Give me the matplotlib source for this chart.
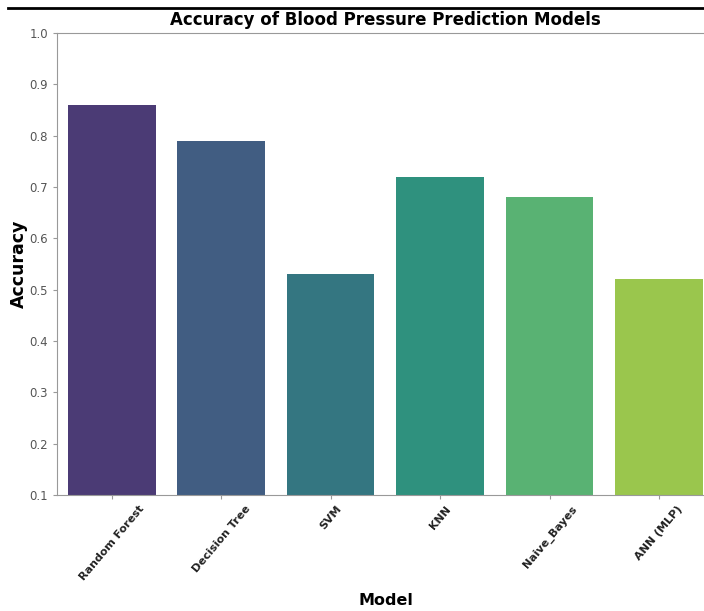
import matplotlib
matplotlib.use("Agg")
import matplotlib.pyplot as plt
import seaborn as sns
from matplotlib.lines import Line2D

# Model accuracies
models = ["Random Forest", "Decision Tree", "SVM", "KNN", "Naive_Bayes", "ANN (MLP)"]
accuracy = [0.86, 0.79, 0.53, 0.72, 0.68, 0.52]
yticks = [0.1, 0.2, 0.3, 0.4, 0.5, 0.6, 0.7, 0.8, 0.9, 1.0]

fig = plt.figure(figsize=(7.04, 6.11), dpi=100)
ax = fig.add_axes([0.081, 0.19, 0.933, 0.756])

sns.barplot(x=models, y=accuracy, hue=models, palette="viridis", legend=False, ax=ax, width=0.8)

ax.set_ylim(0.1, 1.0)
ax.set_xlim(-0.5, 5.5)
ax.set_yticks(yticks)
ax.set_yticklabels([f"{t:.1f}" for t in yticks], fontsize=8.5, color="#555555")
ax.set_xticks(range(len(models)))
ax.set_xticklabels(models, rotation=50, ha="center", fontsize=8,
                   fontweight="bold", color="#222222")
ax.tick_params(axis="both", length=3, color="#999999")

for s in ax.spines.values():
    s.set_color("#999999")

ax.set_title("Accuracy of Blood Pressure Prediction Models", fontsize=12, fontweight="bold", pad=6)
ax.set_xlabel("Model", fontsize=11.5, fontweight="bold")
ax.xaxis.set_label_coords(0.5, -0.212)
ax.set_ylabel("Accuracy", fontsize=12.5, fontweight="bold")
ax.yaxis.set_label_coords(-0.045, 0.5)

# border line across the top of the page
fig.add_artist(Line2D([0.011, 1.0], [0.987, 0.987], color="black", lw=2, transform=fig.transFigure))

fig.savefig("out.png", dpi=100)
